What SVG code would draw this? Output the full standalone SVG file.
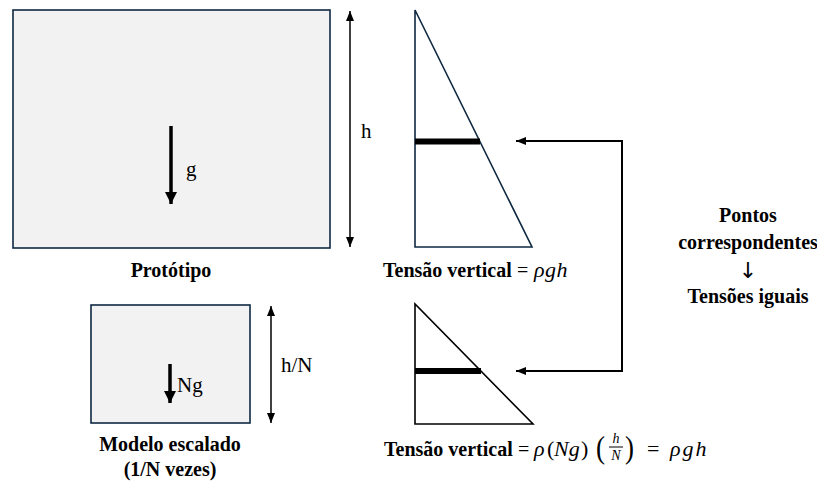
<svg xmlns="http://www.w3.org/2000/svg" width="817" height="481" viewBox="0 0 817 481" font-family="'Liberation Serif', 'Times New Roman', 'DejaVu Serif', serif">
<defs>
<style>
text{font-family:'Liberation Serif','Times New Roman','DejaVu Serif',serif;fill:#000}
.lbl{font-size:20px;font-weight:bold}
.sym{font-size:21px}
.mi{font-style:italic;font-size:22px}
.box{fill:#f2f2f2;stroke:#0e2841;stroke-width:1.6}
.tri1{fill:#fff;stroke:#0e2841;stroke-width:1.6}
.tri2{fill:#fff;stroke:#000;stroke-width:1.6}
.dim{stroke:#000;stroke-width:1.5;fill:none}
.grav{stroke:#000;stroke-width:3.5;fill:none}
.conn{stroke:#000;stroke-width:2;fill:none}
.arr{font-family:'DejaVu Sans','Liberation Sans',sans-serif;font-size:22px}
</style>
<marker id="dimHead" viewBox="0 0 10 8" refX="10" refY="4" markerWidth="10" markerHeight="8" markerUnits="userSpaceOnUse" orient="auto-start-reverse"><path d="M0,0 L10,4 L0,8 Z" fill="#000"/></marker>
<marker id="gravHead" viewBox="0 0 12 12" refX="12" refY="6" markerWidth="12" markerHeight="12" markerUnits="userSpaceOnUse" orient="auto"><path d="M0,0 L12,6 L0,12 Z" fill="#000"/></marker>
<marker id="connHead" viewBox="0 0 10 8" refX="10" refY="4" markerWidth="10" markerHeight="8" markerUnits="userSpaceOnUse" orient="auto-start-reverse"><path d="M0,0 L10,4 L0,8 Z" fill="#000"/></marker>
</defs>

<g id="prototipo">
<rect class="box" x="13" y="10" width="317" height="238"/>
<line class="grav" x1="171" y1="126" x2="171" y2="204" marker-end="url(#gravHead)"/>
<text class="sym" x="186" y="176">g</text>
<text class="lbl" x="171" y="277" text-anchor="middle">Protótipo</text>
</g>

<g id="dim-h">
<line class="dim" x1="350" y1="11" x2="350" y2="247" marker-start="url(#dimHead)" marker-end="url(#dimHead)"/>
<text class="sym" x="361" y="138">h</text>
</g>

<g id="tensao-prototipo">
<polygon class="tri1" points="415,10 415,247 532,247"/>
<rect x="415" y="138.5" width="65" height="6" fill="#000"/>
<text class="lbl" x="383" y="277">Tensão vertical</text>
<text x="517" y="277" font-size="20">=</text>
<text class="mi" x="534" y="277" letter-spacing="0.5">ρgh</text>
</g>

<g id="modelo">
<rect class="box" x="91" y="305" width="159" height="118"/>
<line class="grav" x1="170" y1="364" x2="170" y2="403" marker-end="url(#gravHead)"/>
<text class="sym" x="177" y="392">Ng</text>
<text class="lbl" x="170" y="451" text-anchor="middle">Modelo escalado</text>
<text class="lbl" x="170" y="476" text-anchor="middle">(1/N vezes)</text>
</g>

<g id="dim-hN">
<line class="dim" x1="271" y1="306" x2="271" y2="423" marker-start="url(#dimHead)" marker-end="url(#dimHead)"/>
<text class="sym" x="281" y="372">h/N</text>
</g>

<g id="tensao-modelo">
<polygon class="tri2" points="415,304 415,424 533,424"/>
<rect x="415" y="368" width="66" height="6" fill="#000"/>
<text class="lbl" x="384" y="456">Tensão vertical</text>
<text x="518" y="456" font-size="20">=</text>
<text class="mi" x="534" y="456">ρ</text>
<text x="547" y="456" font-size="22">(</text>
<text class="mi" x="554" y="456">Ng</text>
<text x="581" y="456" font-size="22">)</text>
<text x="596" y="458" font-size="27" transform="translate(596 458) scale(1 1.15) translate(-596 -458)">(</text>
<text x="616" y="443" font-size="14" font-style="italic" text-anchor="middle">h</text>
<line x1="609" y1="447" x2="623" y2="447" stroke="#000" stroke-width="1"/>
<text x="616" y="460" font-size="14" font-style="italic" text-anchor="middle">N</text>
<text x="625" y="458" font-size="27" transform="translate(625 458) scale(1 1.15) translate(-625 -458)">)</text>
<text x="647" y="456" font-size="22">=</text>
<text class="mi" x="670" y="456" letter-spacing="2">ρgh</text>
</g>

<g id="nota">
<text class="lbl" x="748" y="222" text-anchor="middle">Pontos</text>
<text class="lbl" x="748" y="249" text-anchor="middle">correspondentes</text>
<text class="arr" x="748" y="278" text-anchor="middle">↓</text>
<text class="lbl" x="748" y="303" text-anchor="middle">Tensões iguais</text>
</g>

<g id="connectors">
<path class="conn" d="M516,141 H622 V371 H516" marker-start="url(#connHead)" marker-end="url(#connHead)"/>
</g>
</svg>
